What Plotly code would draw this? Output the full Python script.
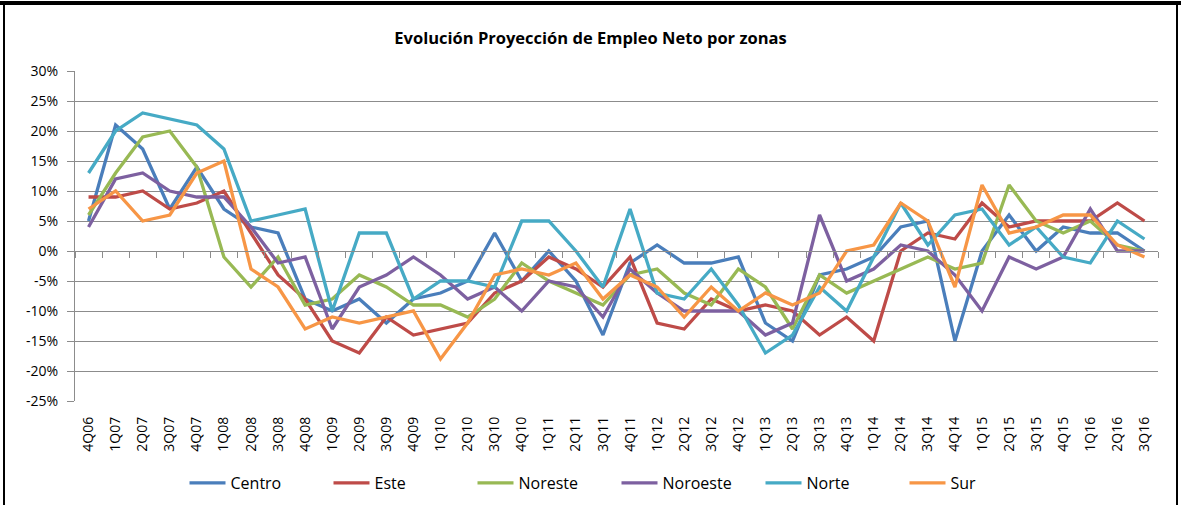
import plotly.graph_objects as go

quarters = ["4Q06","1Q07","2Q07","3Q07","4Q07","1Q08","2Q08","3Q08","4Q08","1Q09",
            "2Q09","3Q09","4Q09","1Q10","2Q10","3Q10","4Q10","1Q11","2Q11","3Q11",
            "4Q11","1Q12","2Q12","3Q12","4Q12","1Q13","2Q13","3Q13","4Q13","1Q14",
            "2Q14","3Q14","4Q14","1Q15","2Q15","3Q15","4Q15","1Q16","2Q16","3Q16"]

centro   = [5, 21, 17, 7, 14, 7, 4, 3, -8, -10, -8, -12, -8, -7, -5, 3, -5, 0, -5, -14,
            -2, 1, -2, -2, -1, -12, -15, -4, -3, -1, 4, 5, -15, 0, 6, 0, 4, 3, 3, 0]
este     = [9, 9, 10, 7, 8, 10, 3, -4, -8, -15, -17, -11, -14, -13, -12, -7, -5, -1, -3, -6,
            -1, -12, -13, -8, -10, -9, -10, -14, -11, -15, 0, 3, 2, 8, 4, 5, 5, 5, 8, 5]
noreste  = [6, 13, 19, 20, 14, -1, -6, -1, -9, -8, -4, -6, -9, -9, -11, -8, -2, -5, -7, -9,
            -4, -3, -7, -9, -3, -6, -13, -4, -7, -5, -3, -1, -3, -2, 11, 5, 3, 5, 1, 0]
noroeste = [4, 12, 13, 10, 9, 9, 4, -2, -1, -13, -6, -4, -1, -4, -8, -6, -10, -5, -6, -11,
            -3, -7, -10, -10, -10, -14, -12, 6, -5, -3, 1, 0, -4, -10, -1, -3, -1, 7, 0, 0]
norte    = [13, 20, 23, 22, 21, 17, 5, 6, 7, -10, 3, 3, -8, -5, -5, -6, 5, 5, 0, -6,
            7, -7, -8, -3, -9, -17, -14, -6, -10, -1, 8, 1, 6, 7, 1, 4, -1, -2, 5, 2]
sur      = [7, 10, 5, 6, 13, 15, -3, -6, -13, -11, -12, -11, -10, -18, -12, -4, -3, -4, -2, -8,
            -4, -6, -11, -6, -10, -7, -9, -7, 0, 1, 8, 5, -6, 11, 3, 4, 6, 6, 1, -1]

series_names = ["Centro", "Este", "Noreste", "Noroeste", "Norte", "Sur"]
series_values = [centro, este, noreste, noroeste, norte, sur]
colors = ["#4A7EBB", "#BE4B48", "#98B954", "#7D60A0", "#46AAC5", "#F79646"]

y_ticks = [0.30, 0.25, 0.20, 0.15, 0.10, 0.05, 0.0, -0.05, -0.10, -0.15, -0.20, -0.25]
y_labels = ["30%", "25%", "20%", "15%", "10%", "5%", "0%", "-5%", "-10%", "-15%", "-20%", "-25%"]

FONT = "Open Sans"

fig = go.Figure()
for name, vals, col in zip(series_names, series_values, colors):
    fig.add_trace(go.Scatter(
        x=quarters, y=[v / 100 for v in vals], name=name, mode="lines",
        line=dict(color=col, width=3.3), xaxis="x", yaxis="y"))

# invisible helper trace to drive the category axis drawn at the 0% line
fig.add_trace(go.Scatter(x=quarters, y=[v / 100 for v in centro], mode="lines",
                         line=dict(width=0), opacity=0, showlegend=False,
                         hoverinfo="skip", xaxis="x2", yaxis="y"))

W, H = 1181, 505
L, R, T, B = 75, 23, 71, 104
ymin, ymax = -0.25, 0.30
pw, ph = W - L - R, H - T - B

def px_x(px):
    return (px - L) / pw

def px_y(py):
    return (H - B - py) / ph

fig.update_layout(
    width=W, height=H,
    margin=dict(l=L, r=R, t=T, b=B, autoexpand=False),
    paper_bgcolor="white", plot_bgcolor="white",
    font=dict(family=FONT, size=13, color="#000000"),
    title=dict(text="<b>Evolución Proyección de Empleo Neto por zonas</b>",
               x=0.5, xanchor="center", y=1 - 38 / H, yanchor="middle",
               yref="container", font=dict(family=FONT, size=16.5, color="#000000")),
    xaxis=dict(type="category", categoryorder="array", categoryarray=quarters,
               showgrid=False, showline=False, ticks="", tickangle=-90,
               tickfont=dict(family=FONT, size=14, color="#000000"),
               ticklabelstandoff=12, range=[-0.5, len(quarters) - 0.5], zeroline=False,
               automargin=False),
    xaxis2=dict(type="category", categoryorder="array", categoryarray=quarters,
                overlaying="x", anchor="free", position=(0 - ymin) / (ymax - ymin),
                side="bottom", showline=True, linecolor="#8c8c8c", linewidth=1,
                ticks="outside", ticklen=6, tickcolor="#8c8c8c", tickson="boundaries",
                showticklabels=False, showgrid=False, zeroline=False,
                range=[-0.5, len(quarters) - 0.5], automargin=False),
    yaxis=dict(range=[ymin, ymax], tickvals=y_ticks, ticktext=y_labels,
               showgrid=True, gridcolor="#8c8c8c", gridwidth=1,
               showline=True, linecolor="#8c8c8c", linewidth=1,
               ticks="outside", ticklen=7, tickcolor="#8c8c8c",
               ticklabelstandoff=6, zeroline=False, automargin=False,
               tickfont=dict(family=FONT, size=14, color="#000000")),
    legend=dict(orientation="h", x=0.5, xanchor="center", y=px_y(483),
                yanchor="middle", font=dict(family=FONT, size=16, color="#000000"),
                entrywidth=93, entrywidthmode="pixels", itemwidth=36,
                traceorder="normal", bgcolor="rgba(0,0,0,0)"),
    showlegend=True,
)

# outer chart frame
fig.add_shape(type="rect", xref="paper", yref="paper",
              x0=px_x(4), x1=px_x(1177), y0=px_y(520), y1=px_y(4),
              line=dict(color="#000000", width=2), layer="above")
fig.add_shape(type="line", xref="paper", yref="paper",
              x0=px_x(0), x1=px_x(1181), y0=px_y(3), y1=px_y(3),
              line=dict(color="#000000", width=4), layer="above")

fig.write_html("out.html", config={"displayModeBar": False},
               post_script="document.body.style.margin='0';")
